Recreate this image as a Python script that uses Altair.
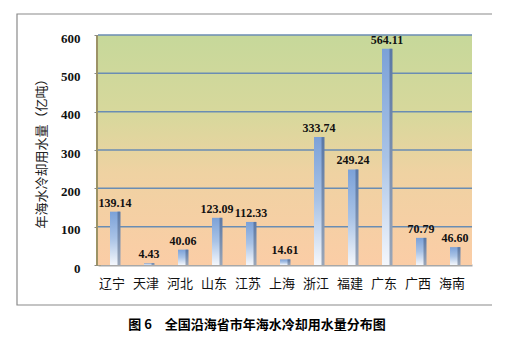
import altair as alt
import pandas as pd

provinces = ["辽宁", "天津", "河北", "山东", "江苏", "上海", "浙江", "福建", "广东", "广西", "海南"]
volumes = [139.14, 4.43, 40.06, 123.09, 112.33, 14.61, 333.74, 249.24, 564.11, 70.79, 46.60]
y_ticks = [0, 100, 200, 300, 400, 500, 600]
y_title = "年海水冷却用水量（亿吨）"
caption = "图 6　全国沿海省市年海水冷却用水量分布图"

df = pd.DataFrame({"province": provinces, "volume": volumes,
                   "label": [f"{v:.2f}" for v in volumes]})
bg = pd.DataFrame({"volume": [0], "hi": [600]})
grid_df = pd.DataFrame({"volume": y_ticks[1:]})

W, H = 374, 230

yscale = alt.Scale(domain=[0, 600], nice=False)
yaxis = alt.Axis(values=y_ticks, labelFont="Liberation Serif", labelFontWeight="bold",
                 labelFontSize=13, labelColor="#111", labelPadding=14, labelOffset=3,
                 tickSize=4, tickColor="#888", grid=False,
                 domainColor="#9c9366", domainWidth=5,
                 titleFont="Noto Sans CJK SC", titleFontWeight="normal",
                 titleFontSize=13, titleColor="#222", titlePadding=12)
Y = alt.Y("volume:Q", title=y_title, scale=yscale, axis=yaxis)

X = alt.X("province:N", sort=provinces, title=None,
          scale=alt.Scale(paddingInner=0, paddingOuter=0),
          axis=alt.Axis(labelAngle=0, labelFont="Noto Sans CJK SC", labelFontSize=13,
                        labelColor="#111", labelPadding=12, ticks=False,
                        domainColor="#a8a8a8", domainWidth=2, labelOffset=-3))

background = alt.Chart(bg).mark_rect(
    fill=alt.Gradient(gradient="linear", x1=0, x2=0, y1=0, y2=1,
                      stops=[alt.GradientStop(color="#c6d89a", offset=0),
                             alt.GradientStop(color="#d8d89c", offset=0.35),
                             alt.GradientStop(color="#efd2a2", offset=0.6),
                             alt.GradientStop(color="#fbcda6", offset=1)])
).encode(y=Y, y2="hi:Q")

grid = alt.Chart(grid_df).mark_rule(color="#6a8db3", strokeWidth=1.5).encode(y=Y)

bars = alt.Chart(df).mark_bar(
    size=10,
    fill=alt.Gradient(gradient="linear", x1=0, x2=0, y1=0, y2=1,
                      stops=[alt.GradientStop(color="#7ba1d8", offset=0),
                             alt.GradientStop(color="#a9c3e6", offset=0.5),
                             alt.GradientStop(color="#f4f7fc", offset=1)])
).encode(x=X, y=Y)

shade = alt.Chart(df).mark_bar(
    size=3, xOffset=4,
    fill=alt.Gradient(gradient="linear", x1=0, x2=0, y1=0, y2=1,
                      stops=[alt.GradientStop(color="#5a78a6", offset=0),
                             alt.GradientStop(color="#9aa6b8", offset=1)])
).encode(x=X, y=Y)

labels = alt.Chart(df).mark_text(
    dy=-9, font="Liberation Serif", fontWeight="bold", fontSize=12, color="#111"
).encode(x=X, y=Y, text="label:N")

frame = alt.Chart(bg).mark_rect(fill=None, stroke="#8a8a8a", strokeWidth=1.2).encode(
    x=alt.value(17 - 98), x2=alt.value(496 - 98), y=alt.value(14 - 35), y2=alt.value(305 - 35))

cap = alt.Chart(bg).mark_text(
    text=caption, font="Noto Sans CJK SC", fontWeight="bold", fontSize=13, color="#000"
).encode(x=alt.value(257 - 98), y=alt.value(325 - 35))

chart = alt.layer(background, grid, frame, bars, shade, labels, cap).properties(
    width=W, height=H,
    autosize=alt.AutoSizeParams(type="none"),
    padding={"left": 90, "top": 27, "right": 20, "bottom": 85},
    background="white",
).configure_view(stroke=None)

chart.save("out.html", embed_options={"renderer": "svg", "actions": False})
